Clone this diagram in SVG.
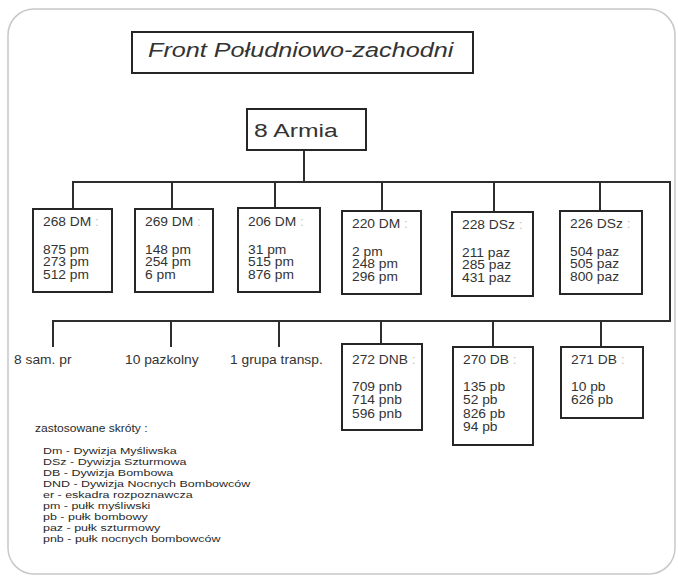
<svg xmlns="http://www.w3.org/2000/svg" width="678" height="579" viewBox="0 0 678 579">
<style>
text{font-family:"Liberation Sans",Arial,sans-serif;fill:#333}
.box{fill:#fff;stroke:#262626;stroke-width:2}
.t{font-size:12px}
.c{fill:#c4c4c4}
.lg{font-size:9.6px;fill:#2a2a2a}
.conn line,.conn polyline{stroke:#2e2e2e;stroke-width:2;fill:none}
</style>
<rect x="0" y="0" width="678" height="579" fill="#fff"/>
<rect id="frame" x="8" y="9" width="667" height="565" rx="26" ry="26" fill="none" stroke="#c8c8c8" stroke-width="1.5"/>

<g class="conn" id="connectors">
<line x1="304" y1="150" x2="304" y2="182"/>
<polyline points="73,209 73,182 670,182 670,321 53,321 53,347"/>
<line x1="172" y1="182" x2="172" y2="209"/>
<line x1="275" y1="182" x2="275" y2="208"/>
<line x1="382" y1="182" x2="382" y2="211"/>
<line x1="494" y1="182" x2="494" y2="212"/>
<line x1="600" y1="182" x2="600" y2="211"/>
<line x1="171" y1="321" x2="171" y2="347"/>
<line x1="279" y1="321" x2="279" y2="347"/>
<line x1="381" y1="321" x2="381" y2="344"/>
<line x1="493" y1="321" x2="493" y2="347"/>
<line x1="601" y1="321" x2="601" y2="347"/>
</g>

<g id="front">
<rect class="box" x="132" y="32" width="341" height="41"/>
<text transform="translate(148,57) scale(1.2,1)" style="font-size:21px;font-style:italic">Front Południowo-zachodni</text>
</g>

<g id="armia">
<rect class="box" x="247" y="109" width="119" height="41"/>
<text transform="translate(254,137) scale(1.3,1)" style="font-size:19px">8 Armia</text>
</g>

<g id="d268">
<rect class="box" x="33" y="209" width="79" height="83"/>
<text class="t" transform="translate(43,226) scale(1.15,1)">268 DM<tspan class="c"> :</tspan><tspan x="0" dy="28">875 pm</tspan><tspan x="0" dy="12.5">273 pm</tspan><tspan x="0" dy="12.5">512 pm</tspan></text>
</g>
<g id="d269">
<rect class="box" x="135" y="209" width="78" height="83"/>
<text class="t" transform="translate(145,226) scale(1.15,1)">269 DM<tspan class="c"> :</tspan><tspan x="0" dy="28">148 pm</tspan><tspan x="0" dy="12.5">254 pm</tspan><tspan x="0" dy="12.5">6 pm</tspan></text>
</g>
<g id="d206">
<rect class="box" x="238" y="208" width="82" height="84"/>
<text class="t" transform="translate(248,226) scale(1.15,1)">206 DM<tspan class="c"> :</tspan><tspan x="0" dy="28">31 pm</tspan><tspan x="0" dy="12.5">515 pm</tspan><tspan x="0" dy="12.5">876 pm</tspan></text>
</g>
<g id="d220">
<rect class="box" x="342" y="211" width="79" height="83"/>
<text class="t" transform="translate(352,228) scale(1.15,1)">220 DM<tspan class="c"> :</tspan><tspan x="0" dy="28">2 pm</tspan><tspan x="0" dy="12.5">248 pm</tspan><tspan x="0" dy="12.5">296 pm</tspan></text>
</g>
<g id="d228">
<rect class="box" x="452" y="212" width="81" height="84"/>
<text class="t" transform="translate(462,229) scale(1.15,1)">228 DSz<tspan class="c"> :</tspan><tspan x="0" dy="28">211 paz</tspan><tspan x="0" dy="12.5">285 paz</tspan><tspan x="0" dy="12.5">431 paz</tspan></text>
</g>
<g id="d226">
<rect class="box" x="560" y="211" width="82" height="83"/>
<text class="t" transform="translate(570,228) scale(1.15,1)">226 DSz<tspan class="c"> :</tspan><tspan x="0" dy="28">504 paz</tspan><tspan x="0" dy="12.5">505 paz</tspan><tspan x="0" dy="12.5">800 paz</tspan></text>
</g>

<g id="sam">
<text class="t" transform="translate(14,364) scale(1.15,1)">8 sam. pr</text>
</g>
<g id="pazkolny">
<text class="t" transform="translate(125,364) scale(1.15,1)">10 pazkolny</text>
</g>
<g id="grupa">
<text class="t" transform="translate(230,364) scale(1.15,1)">1 grupa transp.</text>
</g>

<g id="d272">
<rect class="box" x="342" y="344" width="80" height="86"/>
<text class="t" transform="translate(352,364) scale(1.15,1)">272 DNB<tspan class="c"> :</tspan><tspan x="0" dy="27">709 pnb</tspan><tspan x="0" dy="13.5">714 pnb</tspan><tspan x="0" dy="13.5">596 pnb</tspan></text>
</g>
<g id="d270">
<rect class="box" x="453" y="347" width="80" height="98"/>
<text class="t" transform="translate(463,364) scale(1.15,1)">270 DB<tspan class="c"> :</tspan><tspan x="0" dy="27">135 pb</tspan><tspan x="0" dy="13.5">52 pb</tspan><tspan x="0" dy="13.5">826 pb</tspan><tspan x="0" dy="13.5">94 pb</tspan></text>
</g>
<g id="d271">
<rect class="box" x="561" y="347" width="82" height="71"/>
<text class="t" transform="translate(571,364) scale(1.15,1)">271 DB<tspan class="c"> :</tspan><tspan x="0" dy="27">10 pb</tspan><tspan x="0" dy="13.5">626 pb</tspan></text>
</g>

<g id="legend">
<text class="lg" transform="translate(35,432) scale(1.15,1)" style="font-size:10.5px">zastosowane skróty :</text>
<text class="lg" transform="translate(43,454) scale(1.3,1)">Dm - Dywizja Myśliwska<tspan x="0" dy="11">DSz - Dywizja Szturmowa</tspan><tspan x="0" dy="11">DB - Dywizja Bombowa</tspan><tspan x="0" dy="11">DND - Dywizja Nocnych Bombowców</tspan><tspan x="0" dy="11">er - eskadra rozpoznawcza</tspan><tspan x="0" dy="11">pm - pułk myśliwski</tspan><tspan x="0" dy="11">pb - pułk bombowy</tspan><tspan x="0" dy="11">paz - pułk szturmowy</tspan><tspan x="0" dy="11">pnb - pułk nocnych bombowców</tspan></text>
</g>
</svg>
